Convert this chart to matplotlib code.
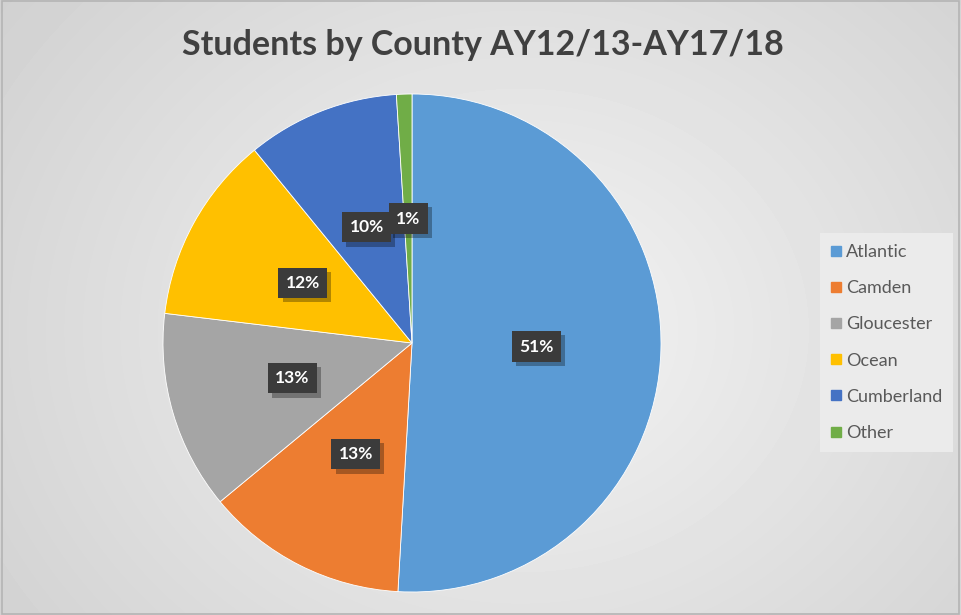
import numpy as np
import matplotlib.pyplot as plt
import matplotlib.patheffects as pe
from matplotlib.lines import Line2D

plt.rcParams['font.family'] = ['Lato', 'DejaVu Sans']

# data
counties = ['Atlantic', 'Camden', 'Gloucester', 'Ocean', 'Cumberland', 'Other']
shares = [50.9, 13.1, 12.9, 12.2, 9.9, 1.0]
colors = ['#5B9BD5', '#ED7D31', '#A5A5A5', '#FFC000', '#4472C4', '#70AD47']
title = 'Students by County AY12/13-AY17/18'

W, H = 961, 615
fig = plt.figure(figsize=(W / 100, H / 100), dpi=100)

# radial gradient background
bg = fig.add_axes([0, 0, 1, 1], zorder=-10)
yy, xx = np.mgrid[0:H, 0:W]
d = np.sqrt(((xx - 520) / 620.0) ** 2 + ((yy - 330) / 520.0) ** 2)
shade = 0.955 - 0.13 * np.clip(d, 0, 1.2)
bg.imshow(shade, cmap='gray', vmin=0, vmax=1, aspect='auto', extent=[0, 1, 0, 1])
bg.set_xlim(0, 1)
bg.set_ylim(0, 1)
bg.axis('off')
bg.add_patch(plt.Rectangle((0.002, 0.002), 0.996, 0.996, fill=False,
                           edgecolor='#b4b4b4', linewidth=1.2, transform=bg.transAxes))

# pie
cx, cy, r = 412, 343, 249
ax = fig.add_axes([(cx - r) / W, (H - cy - r) / H, 2 * r / W, 2 * r / H])
wedges, texts = ax.pie(shares, colors=colors, startangle=90, counterclock=False,
                       radius=1, labels=[f'{round(s)}%' for s in shares],
                       labeldistance=0.5,
                       wedgeprops=dict(edgecolor='white', linewidth=0.6))
for t in texts:
    t.set_ha('center')
    t.set_va('center')
    t.set_color('white')
    t.set_fontweight('bold')
    t.set_fontsize(12.5)
    t.set_bbox(dict(boxstyle='square,pad=0.42', facecolor='#3b3b3b', edgecolor='none'))
    t.get_bbox_patch().set_path_effects([pe.withSimplePatchShadow(offset=(3, -3), shadow_rgbFace='black', alpha=0.3)])
ax.set_xlim(-1, 1)
ax.set_ylim(-1, 1)
ax.set_aspect('equal')
ax.axis('off')

fig.text(483 / W, 1 - 45 / H, title, ha='center', va='center',
         fontsize=24.5, fontweight='bold', color='#404040')

handles = [Line2D([], [], marker='s', linestyle='none', markersize=7,
                  markerfacecolor=c, markeredgecolor=c) for c in colors]
leg = fig.legend(handles, counties, loc='upper left',
                 bbox_to_anchor=(820 / W, 1 - 233 / H), frameon=True,
                 fontsize=13, labelcolor='#595959', handlelength=0.55,
                 handletextpad=0.3, labelspacing=1.12, borderpad=0.6,
                 borderaxespad=0, fancybox=False)
leg.get_frame().set_facecolor('#ebebeb')
leg.get_frame().set_edgecolor('none')
leg.get_frame().set_alpha(1)

fig.savefig('out.png', dpi=100)
